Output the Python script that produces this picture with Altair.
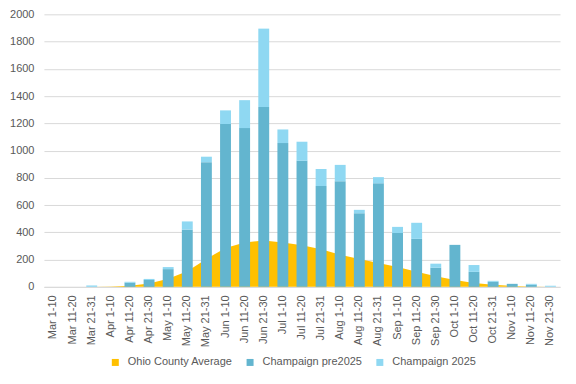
import altair as alt
import pandas as pd

cats = ["Mar 1-10", "Mar 11-20", "Mar 21-31", "Apr 1-10", "Apr 11-20", "Apr 21-30",
        "May 1-10", "May 11-20", "May 21-31", "Jun 1-10", "Jun 11-20", "Jun 21-30",
        "Jul 1-10", "Jul 11-20", "Jul 21-31", "Aug 1-10", "Aug 11-20", "Aug 21-31",
        "Sep 1-10", "Sep 11-20", "Sep 21-30", "Oct 1-10", "Oct 11-20", "Oct 21-31",
        "Nov 1-10", "Nov 11-20", "Nov 21-30"]

ohio = [0, 0, 0, 3, 8, 25, 60, 115, 205, 285, 325, 340, 325, 305, 275, 235, 205, 175,
        145, 110, 78, 50, 28, 15, 6, 3, 1]
pre2025 = [0, 0, 0, 0, 30, 50, 130, 420, 915, 1195, 1165, 1320, 1055, 925, 740, 775,
           540, 760, 395, 352, 140, 308, 110, 37, 22, 15, 0]
c2025 = [0, 0, 10, 0, 7, 8, 15, 60, 40, 100, 205, 575, 100, 140, 125, 120, 25, 45,
         45, 118, 30, 0, 50, 7, 0, 7, 8]

series = ["Ohio County Average", "Champaign pre2025", "Champaign 2025"]
colors = ["#ffc000", "#63b5cf", "#8fd8f2"]

rows = []
for c, p, n in zip(cats, pre2025, c2025):
    rows.append({"cat": c, "series": series[1], "value": p, "ord": 0})
    rows.append({"cat": c, "series": series[2], "value": n, "ord": 1})
bars_df = pd.DataFrame(rows)
area_df = pd.DataFrame({"cat": cats, "series": series[0], "value": ohio})

FONT = "Liberation Sans, sans-serif"

x = alt.X("cat:N", sort=cats,
          scale=alt.Scale(paddingInner=0.43, paddingOuter=0.215),
          axis=alt.Axis(title=None, labelAngle=-90, labelColor="#595959", labelFontSize=11,
                        labelFont=FONT, ticks=False, domainColor="#d9d9d9",
                        labelPadding=8))
y = alt.Y("value:Q", stack="zero",
          scale=alt.Scale(domain=[0, 2000], nice=False),
          axis=alt.Axis(title=None, values=list(range(0, 2001, 200)), grid=True,
                        format="d",
                        gridColor="#d9d9d9", domain=False, ticks=False,
                        labelColor="#595959", labelFontSize=11, labelFont=FONT,
                        labelPadding=10))
color = alt.Color("series:N",
                  scale=alt.Scale(domain=series, range=colors),
                  legend=alt.Legend(title=None, orient="none", direction="horizontal",
                                    legendX=66, legendY=343, symbolType="square",
                                    symbolSize=49, symbolStrokeWidth=0,
                                    labelFontSize=11, labelFont=FONT,
                                    labelColor="#595959", columnPadding=12,
                                    labelOffset=7, padding=0))

area = alt.Chart(area_df).mark_area(interpolate="linear", opacity=1).encode(
    x=x, y=y, color=color)

bars = alt.Chart(bars_df).mark_bar(opacity=1).encode(
    x=x, y=y, color=color, order=alt.Order("ord:Q"))

chart = alt.layer(area, bars).properties(
    width=517, height=273,
    autosize=alt.AutoSizeParams(type="none"),
    padding={"left": 36, "top": 6, "right": 8, "bottom": 90},
).configure_view(stroke=None)

chart.save("out.html", embed_options={"renderer": "svg", "actions": False})
